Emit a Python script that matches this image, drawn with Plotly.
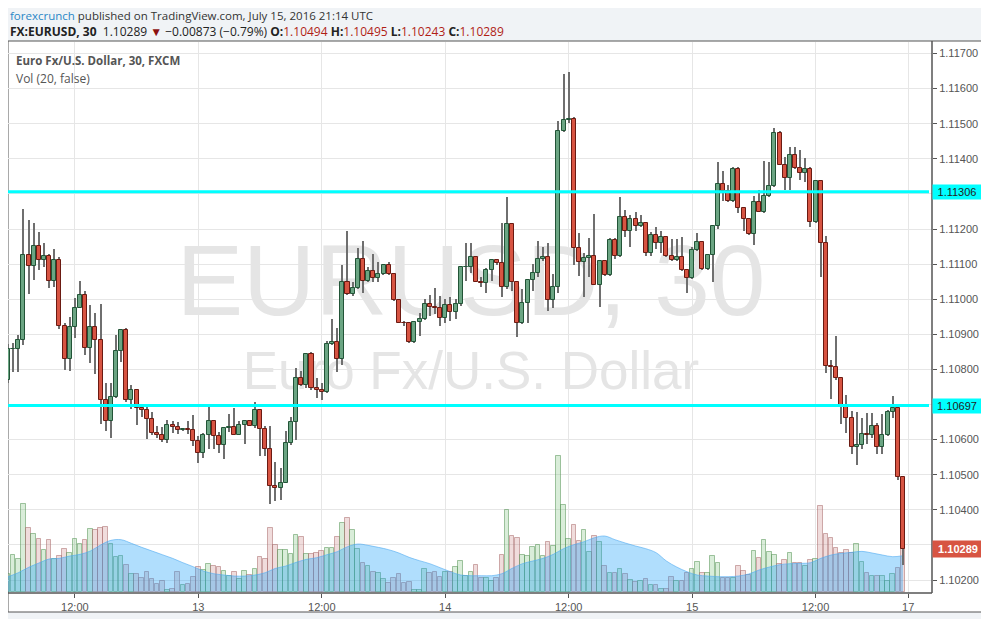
import plotly.graph_objects as go

# EUR/USD 30 min candles, July 12 05:30 -> July 15 20:30
opens = [1.10769, 1.10857, 1.10857, 1.10883, 1.11126, 1.11094, 1.11151, 1.11111, 1.11123, 1.11051,
         1.11111, 1.10923, 1.10829, 1.10921, 1.10974, 1.11011, 1.10860, 1.10921, 1.10883, 1.10714,
         1.10654, 1.10722, 1.10852, 1.10912, 1.10714, 1.10740, 1.10689, 1.10683, 1.10660, 1.10620,
         1.10614, 1.10600, 1.10643, 1.10635, 1.10626, 1.10629, 1.10627, 1.10597, 1.10562, 1.10614,
         1.10652, 1.10609, 1.10586, 1.10633, 1.10637, 1.10614, 1.10643, 1.10652, 1.10640, 1.10683,
         1.10629, 1.10572, 1.10467, 1.10462, 1.10477, 1.10591, 1.10650, 1.10776, 1.10757, 1.10843,
         1.10746, 1.10740, 1.10735, 1.10872, 1.10877, 1.10829, 1.11049, 1.11014, 1.11031, 1.11114,
         1.11051, 1.11080, 1.11060, 1.11071, 1.11097, 1.11071, 1.10997, 1.10932, 1.10931, 1.10877,
         1.10934, 1.10943, 1.10986, 1.10977, 1.10974, 1.10946, 1.10983, 1.10963, 1.10986, 1.11091,
         1.11093, 1.11119, 1.11050, 1.11046, 1.11083, 1.11112, 1.11103, 1.11034, 1.11213, 1.11050,
         1.10932, 1.10988, 1.11055, 1.11075, 1.11114, 1.11120, 1.10997, 1.11034, 1.11478, 1.11511,
         1.11514, 1.11146, 1.11105, 1.11117, 1.11122, 1.11040, 1.11110, 1.11069, 1.11169, 1.11122,
         1.11234, 1.11194, 1.11229, 1.11209, 1.11217, 1.11132, 1.11183, 1.11160, 1.11177, 1.11123,
         1.11112, 1.11120, 1.11083, 1.11060, 1.11140, 1.11163, 1.11086, 1.11126, 1.11209, 1.11329,
         1.11309, 1.11281, 1.11371, 1.11259, 1.11229, 1.11186, 1.11277, 1.11249, 1.11294, 1.11323,
         1.11474, 1.11383, 1.11346, 1.11411, 1.11374, 1.11360, 1.11371, 1.11219, 1.11338, 1.11160,
         1.10809, 1.10808, 1.10775, 1.10696, 1.10663, 1.10578, 1.10586, 1.10617, 1.10612, 1.10640,
         1.10580, 1.10612, 1.10680, 1.10689, 1.10494]
highs = [1.10872, 1.10874, 1.10898, 1.11257, 1.11226, 1.11217, 1.11192, 1.11161, 1.11130, 1.11144,
         1.11120, 1.10932, 1.10950, 1.11004, 1.11052, 1.11024, 1.10984, 1.10961, 1.10987, 1.10761,
         1.10761, 1.10898, 1.10915, 1.10919, 1.10755, 1.10740, 1.10695, 1.10692, 1.10678, 1.10640,
         1.10635, 1.10656, 1.10652, 1.10650, 1.10633, 1.10652, 1.10669, 1.10610, 1.10619, 1.10692,
         1.10652, 1.10622, 1.10637, 1.10672, 1.10689, 1.10654, 1.10654, 1.10656, 1.10708, 1.10683,
         1.10638, 1.10638, 1.10535, 1.10519, 1.10624, 1.10664, 1.10805, 1.10795, 1.10848, 1.10850,
         1.10776, 1.10762, 1.10881, 1.10943, 1.10919, 1.11097, 1.11195, 1.11048, 1.11145, 1.11167,
         1.11091, 1.11129, 1.11105, 1.11100, 1.11105, 1.11071, 1.10997, 1.10938, 1.10932, 1.10934,
         1.10962, 1.11000, 1.11012, 1.11033, 1.11008, 1.11000, 1.11005, 1.11000, 1.11095, 1.11159,
         1.11159, 1.11124, 1.11062, 1.11089, 1.11114, 1.11114, 1.11216, 1.11291, 1.11213, 1.11050,
         1.11029, 1.11055, 1.11100, 1.11167, 1.11148, 1.11159, 1.11072, 1.11507, 1.11643, 1.11646,
         1.11519, 1.11189, 1.11133, 1.11174, 1.11243, 1.11112, 1.11110, 1.11174, 1.11175, 1.11292,
         1.11254, 1.11241, 1.11248, 1.11241, 1.11217, 1.11191, 1.11207, 1.11195, 1.11177, 1.11172,
         1.11172, 1.11178, 1.11083, 1.11148, 1.11190, 1.11165, 1.11126, 1.11209, 1.11392, 1.11364,
         1.11326, 1.11376, 1.11376, 1.11259, 1.11229, 1.11295, 1.11310, 1.11395, 1.11391, 1.11489,
         1.11478, 1.11405, 1.11433, 1.11435, 1.11424, 1.11402, 1.11376, 1.11338, 1.11338, 1.11181,
         1.10827, 1.10895, 1.10778, 1.10727, 1.10681, 1.10678, 1.10663, 1.10676, 1.10676, 1.10646,
         1.10673, 1.10684, 1.10724, 1.10694, 1.10495]
lows = [1.10760, 1.10793, 1.10793, 1.10869, 1.11016, 1.11056, 1.11083, 1.11092, 1.11033, 1.11036,
        1.10916, 1.10799, 1.10796, 1.10889, 1.10974, 1.10840, 1.10819, 1.10788, 1.10645, 1.10625,
        1.10605, 1.10719, 1.10822, 1.10708, 1.10686, 1.10643, 1.10665, 1.10603, 1.10614, 1.10605,
        1.10594, 1.10591, 1.10619, 1.10616, 1.10624, 1.10616, 1.10581, 1.10533, 1.10548, 1.10573,
        1.10572, 1.10562, 1.10545, 1.10621, 1.10612, 1.10612, 1.10588, 1.10638, 1.10633, 1.10553,
        1.10553, 1.10416, 1.10424, 1.10429, 1.10476, 1.10586, 1.10600, 1.10752, 1.10748, 1.10740,
        1.10719, 1.10714, 1.10734, 1.10870, 1.10794, 1.10814, 1.11012, 1.11010, 1.11029, 1.11019,
        1.11048, 1.11048, 1.11050, 1.11069, 1.11069, 1.10995, 1.10932, 1.10924, 1.10874, 1.10876,
        1.10895, 1.10941, 1.10952, 1.10957, 1.10924, 1.10931, 1.10938, 1.10943, 1.10981, 1.11053,
        1.11076, 1.11048, 1.11034, 1.11017, 1.11053, 1.11098, 1.11007, 1.11030, 1.11024, 1.10891,
        1.10929, 1.10932, 1.11024, 1.11062, 1.11110, 1.10967, 1.10976, 1.11019, 1.11476, 1.11502,
        1.11098, 1.11067, 1.11005, 1.11062, 1.11040, 1.10978, 1.11067, 1.11067, 1.11115, 1.11119,
        1.11178, 1.11150, 1.11195, 1.11207, 1.11124, 1.11124, 1.11143, 1.11133, 1.11119, 1.11110,
        1.11110, 1.11081, 1.11019, 1.11058, 1.11138, 1.11084, 1.11084, 1.11048, 1.11200, 1.11281,
        1.11276, 1.11276, 1.11245, 1.11195, 1.11184, 1.11155, 1.11248, 1.11247, 1.11292, 1.11320,
        1.11381, 1.11311, 1.11311, 1.11372, 1.11341, 1.11333, 1.11207, 1.11217, 1.11062, 1.10789,
        1.10715, 1.10771, 1.10645, 1.10619, 1.10560, 1.10529, 1.10574, 1.10588, 1.10605, 1.10560,
        1.10560, 1.10610, 1.10662, 1.10486, 1.10243]
closes = [1.10857, 1.10858, 1.10883, 1.11126, 1.11094, 1.11151, 1.11111, 1.11123, 1.11051, 1.11111,
          1.10923, 1.10829, 1.10921, 1.10974, 1.11011, 1.10860, 1.10921, 1.10883, 1.10714, 1.10654,
          1.10722, 1.10852, 1.10912, 1.10714, 1.10740, 1.10689, 1.10683, 1.10660, 1.10620, 1.10614,
          1.10600, 1.10643, 1.10635, 1.10626, 1.10629, 1.10627, 1.10597, 1.10562, 1.10614, 1.10652,
          1.10609, 1.10586, 1.10633, 1.10637, 1.10614, 1.10643, 1.10652, 1.10640, 1.10683, 1.10629,
          1.10572, 1.10467, 1.10462, 1.10477, 1.10591, 1.10650, 1.10776, 1.10757, 1.10843, 1.10746,
          1.10740, 1.10735, 1.10872, 1.10877, 1.10829, 1.11049, 1.11014, 1.11031, 1.11114, 1.11051,
          1.11080, 1.11060, 1.11071, 1.11097, 1.11071, 1.10997, 1.10932, 1.10931, 1.10877, 1.10934,
          1.10943, 1.10986, 1.10977, 1.10974, 1.10946, 1.10983, 1.10963, 1.10986, 1.11091, 1.11093,
          1.11119, 1.11050, 1.11046, 1.11083, 1.11112, 1.11103, 1.11034, 1.11213, 1.11050, 1.10932,
          1.10988, 1.11055, 1.11075, 1.11114, 1.11120, 1.10997, 1.11034, 1.11478, 1.11511, 1.11514,
          1.11146, 1.11105, 1.11117, 1.11122, 1.11040, 1.11110, 1.11069, 1.11169, 1.11122, 1.11234,
          1.11194, 1.11229, 1.11209, 1.11217, 1.11132, 1.11183, 1.11160, 1.11177, 1.11123, 1.11112,
          1.11120, 1.11083, 1.11060, 1.11140, 1.11163, 1.11086, 1.11126, 1.11209, 1.11329, 1.11309,
          1.11281, 1.11371, 1.11259, 1.11229, 1.11186, 1.11277, 1.11249, 1.11294, 1.11323, 1.11474,
          1.11383, 1.11346, 1.11411, 1.11374, 1.11360, 1.11371, 1.11219, 1.11338, 1.11160, 1.10809,
          1.10808, 1.10775, 1.10696, 1.10663, 1.10578, 1.10586, 1.10617, 1.10612, 1.10640, 1.10580,
          1.10612, 1.10680, 1.10689, 1.10494, 1.10289]

# volume (arbitrary units, as read)
volume = [52, 109, 98, 263, 190, 173, 158, 125, 155, 98, 108, 128, 115, 158, 142, 155, 187, 185, 190, 193,
          142, 103, 106, 79, 52, 52, 42, 58, 38, 22, 32, 4, 8, 58, 20, 23, 44, 75, 65, 83,
          77, 73, 62, 47, 60, 39, 62, 50, 69, 103, 98, 191, 140, 125, 125, 113, 169, 163, 113, 112,
          115, 121, 130, 130, 165, 205, 220, 185, 127, 85, 78, 58, 55, 37, 25, 40, 52, 25, 28, 4,
          4, 68, 57, 59, 44, 59, 58, 74, 92, 48, 58, 79, 41, 41, 32, 41, 109, 245, 166, 160,
          109, 106, 133, 140, 106, 149, 136, 407, 260, 157, 200, 152, 185, 118, 166, 148, 77, 56, 56, 68,
          53, 35, 30, 32, 37, 20, 20, 8, 8, 44, 32, 32, 57, 68, 89, 55, 57, 107, 86, 42,
          42, 42, 77, 61, 50, 122, 101, 155, 118, 110, 83, 95, 115, 85, 85, 77, 95, 99, 257, 173,
          160, 132, 115, 125, 115, 142, 90, 55, 47, 47, 47, 32, 53, 72, 223]

# volume moving average (20), read at every other bar
ma_bar = list(range(1, 176, 2))
ma_vol = [45, 57, 73, 86, 98, 100, 107, 112, 122, 140, 154, 156, 145, 133, 122, 111, 100, 87, 75, 62,
          54, 50, 47, 47, 50, 57, 70, 77, 88, 97, 102, 111, 120, 135, 143, 139, 133, 126, 116, 103,
          93, 84, 72, 60, 50, 48, 48, 48, 54, 70, 84, 92, 100, 112, 129, 141, 150, 162, 167, 156,
          146, 137, 129, 117, 92, 74, 60, 50, 47, 45, 45, 47, 53, 65, 74, 81, 84, 85, 87, 100,
          110, 115, 118, 121, 116, 110, 105, 108]

level_lines = [1.11306, 1.10697]
last_price = 1.10289

tick_bars = [14, 38, 62, 86, 110, 134, 158, 176]
tick_text = ["12:00", "13", "12:00", "14", "12:00", "15", "12:00", "17"]
price_ticks = [1.102 + 0.001 * i for i in range(16)]
# price labels hidden behind the level / last price tags
hidden_ticks = ["1.10300", "1.10700", "1.11300"]
price_text = ["" if "%.5f" % p in hidden_ticks else "%.5f" % p for p in price_ticks]

bars = list(range(1, len(opens) + 1))
up = [c >= o for o, c in zip(opens, closes)]

UP_FILL, UP_LINE = "#6ba583", "#225437"
DN_FILL, DN_LINE = "#d75442", "#6b1a12"

fig = go.Figure()

# watermark (below everything)
fig.add_trace(go.Scatter(x=[91, 91], y=[905, 648], mode="text",
                         text=["EURUSD, 30", "Euro Fx/U.S. Dollar"],
                         textfont=dict(size=[100, 53], color="#e5e5e5", family="Liberation Sans"),
                         hoverinfo="skip", showlegend=False, yaxis="y"))

# volume bars
fig.add_trace(go.Bar(x=bars, y=volume, width=0.9, yaxis="y",
                     marker=dict(color=["rgba(120,190,120,0.28)" if u else "rgba(200,130,130,0.28)" for u in up],
                                 line=dict(color=["rgba(90,150,90,0.55)" if u else "rgba(170,110,110,0.55)" for u in up],
                                           width=1)),
                     showlegend=False, hoverinfo="skip"))

# volume MA area
fig.add_trace(go.Scatter(x=ma_bar, y=ma_vol, mode="lines", fill="tozeroy", yaxis="y",
                         line=dict(color="rgba(80,170,240,0.6)", width=1, shape="spline"),
                         fillcolor="rgba(30,160,250,0.35)", showlegend=False, hoverinfo="skip"))

# wicks
fig.add_trace(go.Bar(x=bars, y=[h - l for h, l in zip(highs, lows)], base=lows, width=0.2,
                     marker=dict(color="#6f6f6f", line=dict(width=0)), yaxis="y2",
                     showlegend=False, hoverinfo="skip"))

# bodies
fig.add_trace(go.Bar(x=bars, y=[max(abs(c - o), 0.000015) for o, c in zip(opens, closes)],
                     base=[min(o, c) for o, c in zip(opens, closes)], width=0.78, yaxis="y2",
                     marker=dict(color=[UP_FILL if u else DN_FILL for u in up],
                                 line=dict(color=[UP_LINE if u else DN_LINE for u in up], width=1)),
                     showlegend=False, hoverinfo="skip"))


# page pixel -> paper coords (page has an 8px body margin, plot spans x 8..932, y 42..593)
def px(x):
    return (x - 8) / 924.0


def py(y):
    return (593 - y) / 551.0


shapes = [
    dict(type="rect", xref="paper", yref="paper", x0=px(8), x1=px(982), y0=py(612), y1=py(41),
         fillcolor="white", line=dict(color="#555", width=1), layer="below"),
    dict(type="line", xref="paper", yref="paper", x0=1, x1=1, y0=0, y1=py(41),
         line=dict(color="#555", width=1.5)),
    dict(type="line", xref="paper", yref="paper", x0=0, x1=1, y0=0, y1=0,
         line=dict(color="#555", width=1.5)),
]
for lv in level_lines:
    shapes.append(dict(type="line", xref="paper", yref="y2", x0=0, x1=px(929), y0=lv, y1=lv,
                       line=dict(color="#00ffff", width=3)))

annotations = [
    dict(x=px(8), y=py(15), xref="paper", yref="paper", xanchor="left", yanchor="middle", showarrow=False,
         text="<span style='color:#2a87c6'>forexcrunch</span> published on TradingView.com, July 15, 2016 21:14 UTC",
         font=dict(family="Open Sans", size=11.5, color="#333")),
    dict(x=px(8), y=py(31), xref="paper", yref="paper", xanchor="left", yanchor="middle", showarrow=False,
         text="<b>FX:EURUSD, 30</b>  1.10289 <span style='color:#8b1010'>▼</span> \u22120.00873 (\u22120.79%) "
              "<b>O:</b><span style='color:#b01e16'>1.10494</span> <b>H:</b><span style='color:#b01e16'>1.10495</span> "
              "<b>L:</b><span style='color:#b01e16'>1.10243</span> <b>C:</b><span style='color:#b01e16'>1.10289</span>",
         font=dict(family="Open Sans", size=12, color="#222")),
    dict(x=px(14), y=py(61), xref="paper", yref="paper", xanchor="left", yanchor="middle", showarrow=False,
         text="<b>Euro Fx/U.S. Dollar, 30, FXCM</b>", font=dict(family="Open Sans", size=11.5, color="#555")),
    dict(x=px(14), y=py(78), xref="paper", yref="paper", xanchor="left", yanchor="middle", showarrow=False,
         text="Vol (20, false)", font=dict(family="Open Sans", size=12, color="#555")),
]
for lv in level_lines:
    annotations.append(dict(x=px(932), y=lv, xref="paper", yref="y2", xanchor="left", yanchor="middle",
                            showarrow=False, text="%.5f" % lv, bgcolor="#00ffff", borderpad=1, width=46,
                            align="center", font=dict(family="Liberation Sans", size=11, color="#222")))
annotations.append(dict(x=px(932), y=last_price, xref="paper", yref="y2", xanchor="left", yanchor="middle",
                        showarrow=False, text="<b>%.5f</b>" % last_price, bgcolor="#d75442", borderpad=2,
                        width=46, align="center", font=dict(family="Liberation Sans", size=11, color="white")))

fig.update_layout(
    width=981, height=611,
    margin=dict(l=0, r=57, t=34, b=26),
    paper_bgcolor="#f0f3f6", plot_bgcolor="rgba(0,0,0,0)",
    barmode="overlay", bargap=0,
    shapes=shapes, annotations=annotations,
    xaxis=dict(range=[1.0, 180.63], tickvals=tick_bars, ticktext=tick_text, showgrid=True,
               gridcolor="#e6e6e6", ticks="outside", ticklen=4, tickcolor="#555", automargin=False,
               tickfont=dict(family="Liberation Sans", size=11, color="#555"), zeroline=False,
               showline=False),
    yaxis=dict(range=[-3.9, 1649], visible=False, showgrid=False, zeroline=False, automargin=False),
    yaxis2=dict(range=[1.10163, 1.117328], overlaying="y", side="right", tickvals=price_ticks,
                ticktext=price_text, showgrid=True, gridcolor="#e6e6e6", ticks="outside", ticklen=4,
                tickcolor="#555", tickfont=dict(family="Liberation Sans", size=11, color="#555"),
                zeroline=False, showline=False, automargin=False),
    hovermode=False,
)

fig.write_html("out.html")
